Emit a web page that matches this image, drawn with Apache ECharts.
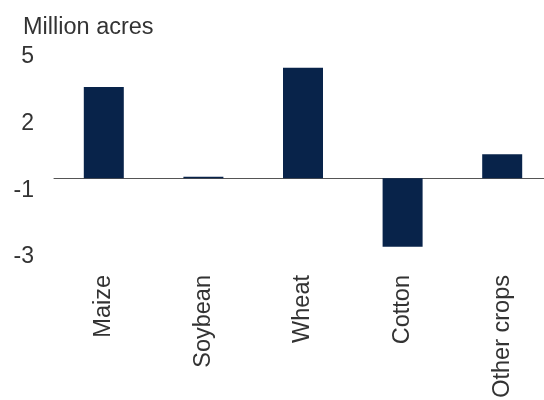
<!DOCTYPE html>
<html>
<head>
<meta charset="utf-8">
<script src="https://cdn.jsdelivr.net/npm/echarts@6/dist/echarts.min.js"></script>
<style>
  html, body { margin: 0; padding: 0; background: #fff; }
  #chart { width: 544px; height: 400px; }
</style>
</head>
<body>
<div id="chart"></div>
<script>
// crops and change in planted area (million acres)
var categories = ["Maize", "Soybean", "Wheat", "Cotton", "Other crops"];
var values = [3.76, 0.06, 4.56, -2.83, 0.99];
// tick labels as printed on the original, evenly spaced bottom to top
var tickLabels = ["-3", "-1", "2", "5"];

var chart = echarts.init(document.getElementById("chart"));
var font = "Liberation Sans, Arial, sans-serif";

chart.setOption({
  animation: false,
  title: {
    text: "Million acres",
    left: 18,
    top: 11,
    textStyle: { fontFamily: font, fontSize: 23.5, fontWeight: "normal", color: "#333" }
  },
  grid: { left: 54, right: -8, top: 57, bottom: 143, containLabel: false, outerBoundsMode: "none" },
  xAxis: {
    type: "category",
    data: categories,
    axisLine: { onZero: true, lineStyle: { color: "#555", width: 1 } },
    axisTick: { show: false },
    axisLabel: {
      rotate: 90,
      margin: 18,
      interval: 0,
      fontFamily: font,
      fontSize: 23.5,
      color: "#333"
    }
  },
  yAxis: [
    {
      type: "value",
      min: -3.25,
      max: 5,
      show: false,
      splitLine: { show: false }
    },
    {
      // label-only axis, the printed ticks are not on a linear scale
      type: "value",
      position: "left",
      min: 0,
      max: tickLabels.length - 1,
      interval: 1,
      axisLine: { show: false },
      axisTick: { show: false },
      splitLine: { show: false },
      axisLabel: {
        margin: 20,
        fontFamily: font,
        fontSize: 23,
        color: "#333",
        formatter: function (v) { return tickLabels[v]; }
      }
    }
  ],
  series: [
    {
      type: "bar",
      yAxisIndex: 0,
      data: values,
      barWidth: 40,
      itemStyle: { color: "#08234a" }
    }
  ]
});
</script>
</body>
</html>
